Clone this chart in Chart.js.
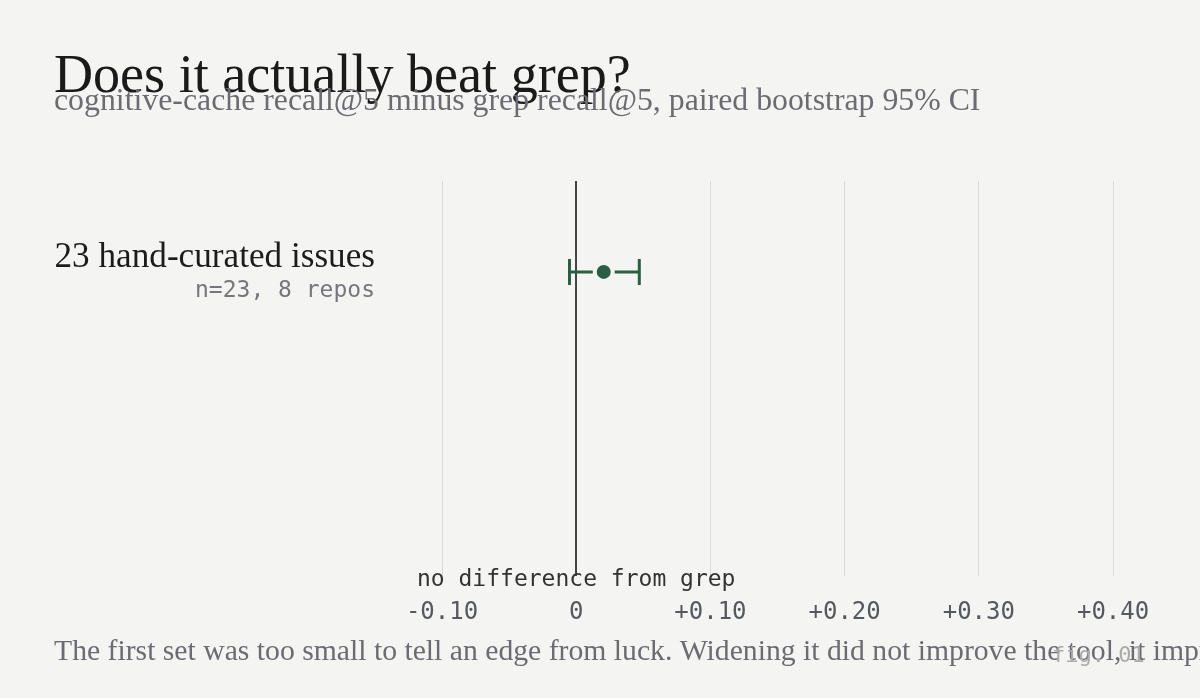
<!DOCTYPE html>
<html>
<head>
<meta charset="utf-8">
<script src="https://cdn.jsdelivr.net/npm/chart.js@4.4.1/dist/chart.umd.min.js"></script>
<style>
  html, body { margin: 0; padding: 0; background: #f4f4f2; }
  canvas { display: block; }
</style>
</head>
<body>
<canvas id="forest" width="1200" height="698"></canvas>
<script>
// data
const rowLabels = ["23 hand-curated issues"];
const rowNotes = ["n=23, 8 repos"];
const rowPos = [0];
const deltas = [0.0205];
const ciLow = [-0.005];
const ciHigh = [0.047];
const tickValues = [-0.10, 0, 0.10, 0.20, 0.30, 0.40];

const BG = "#f4f4f2";
const GREEN = "#2b5e44";
const SERIF = "'Liberation Serif', 'DejaVu Serif', serif";
const MONO = "'DejaVu Sans Mono', 'Liberation Mono', monospace";

// pick a font size so the text spans roughly the given width
function fitFont(c, text, width, family) {
    c.font = "100px " + family;
    const size = (100 * width) / c.measureText(text).width;
    return size.toFixed(1) + "px " + family;
}

const caption = "The first set was too small to tell an edge from luck. Widening it did not improve the tool, it improved the measurement.";
const captionFit = "The first set was too small to tell an edge from luck. Widening it did not improve the";

// text + error bars
const decor = {
    id: "decor",
    beforeDraw(chart) {
        const c = chart.ctx;
        c.save();
        c.fillStyle = BG;
        c.fillRect(0, 0, chart.width, chart.height);
        c.restore();
    },
    beforeDatasetsDraw(chart) {
        const c = chart.ctx;
        const x = chart.scales.x, y = chart.scales.y;
        c.save();
        c.strokeStyle = GREEN;
        c.lineWidth = 3;
        rowPos.forEach((r, i) => {
            const py = y.getPixelForValue(r);
            const x0 = x.getPixelForValue(ciLow[i]);
            const x1 = x.getPixelForValue(ciHigh[i]);
            c.beginPath();
            c.moveTo(x0, py); c.lineTo(x1, py);
            c.moveTo(x0, py - 13); c.lineTo(x0, py + 13);
            c.moveTo(x1, py - 13); c.lineTo(x1, py + 13);
            c.stroke();
        });
        c.restore();
    },
    afterDraw(chart) {
        const c = chart.ctx;
        const x = chart.scales.x, y = chart.scales.y;
        c.save();
        c.textBaseline = "alphabetic";

        c.fillStyle = "#1a1a1a";
        c.font = fitFont(c, "Does it actually beat grep?", 577, SERIF);
        c.fillText("Does it actually beat grep?", 54, 92);

        c.fillStyle = "#6b6b72";
        const sub = "cognitive-cache recall@5 minus grep recall@5, paired bootstrap 95% CI";
        c.font = fitFont(c, sub, 927, SERIF);
        c.fillText(sub, 54, 110);

        c.textAlign = "right";
        rowPos.forEach((r, i) => {
            const py = y.getPixelForValue(r);
            c.fillStyle = "#1c1c1c";
            c.font = fitFont(c, rowLabels[i], 321, SERIF);
            c.fillText(rowLabels[i], 375, py - 5);
            c.fillStyle = "#76767c";
            c.font = "23px " + MONO;
            c.fillText(rowNotes[i], 375, py + 25);
        });

        c.textAlign = "center";
        c.fillStyle = "#333333";
        c.font = "23px " + MONO;
        c.fillText("no difference from grep", x.getPixelForValue(0), 586);

        c.textAlign = "left";
        c.fillStyle = "#6b6b72";
        c.font = fitFont(c, captionFit, 1008, SERIF);
        c.fillText(caption, 54, 660);

        c.fillStyle = "#ababab";
        c.font = "22px " + MONO;
        c.fillText("fig. 01", 1052, 662);
        c.restore();
    }
};

new Chart(document.getElementById("forest"), {
    type: "scatter",
    data: {
        datasets: [
            {
                data: deltas.map((d, i) => ({ x: d, y: rowPos[i] })),
                backgroundColor: GREEN,
                borderColor: BG,
                borderWidth: 4,
                pointRadius: 9,
                pointHoverRadius: 9,
            },
        ],
    },
    options: {
        responsive: false,
        animation: false,
        layout: { padding: { top: 181, left: 400, right: 0, bottom: 49 } },
        plugins: {
            legend: { display: false },
            tooltip: { enabled: false },
        },
        scales: {
            x: {
                type: "linear",
                min: -0.1313,
                max: 0.4551,
                afterBuildTicks: (axis) => {
                    axis.ticks = tickValues.map((v) => ({ value: v }));
                },
                border: { display: false },
                grid: {
                    drawTicks: false,
                    color: (ctx) => (ctx.tick && ctx.tick.value === 0 ? "#444444" : "#d9d9d7"),
                    lineWidth: (ctx) => (ctx.tick && ctx.tick.value === 0 ? 2 : 1),
                },
                ticks: {
                    padding: 22,
                    color: "#55595f",
                    font: { family: MONO, size: 24 },
                    callback: (v) => (v === 0 ? "0" : (v > 0 ? "+" : "-") + Math.abs(v).toFixed(2)),
                },
            },
            y: {
                type: "linear",
                display: false,
                reverse: true,
                min: -0.92,
                max: 3.08,
            },
        },
    },
    plugins: [decor],
});
</script>
</body>
</html>
